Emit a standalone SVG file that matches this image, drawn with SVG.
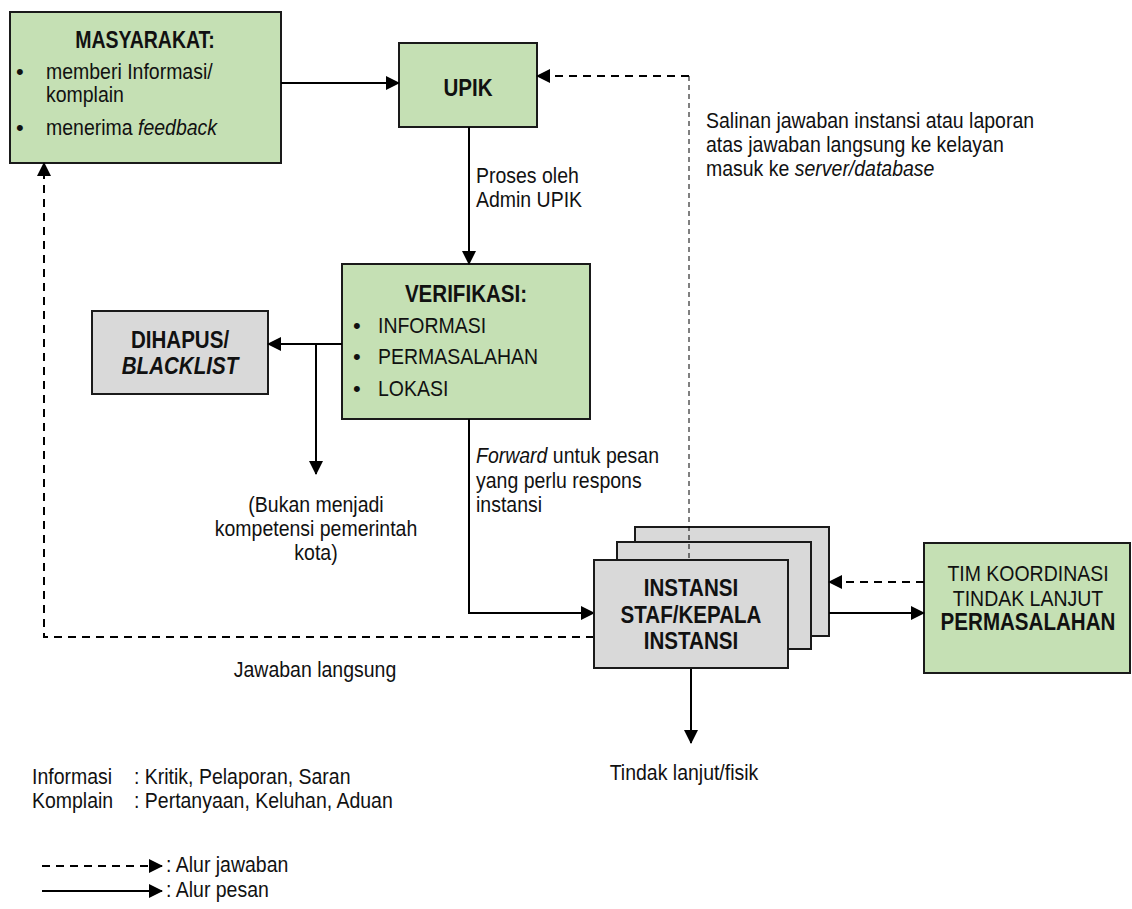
<svg xmlns="http://www.w3.org/2000/svg" width="1132" height="909" viewBox="0 0 1132 909">
<style>
.t{font-family:"Liberation Sans",Arial,sans-serif;font-size:22px;fill:#111}
.b{font-weight:bold;font-size:23.5px}
.i{font-style:italic}
.c{text-anchor:middle}
.g{fill:#c5e0b4;stroke:#1a1a1a;stroke-width:2}
.k{fill:#d9d9d9;stroke:#1a1a1a;stroke-width:2}
.s{fill:none;stroke:#000;stroke-width:2}
.d{fill:none;stroke:#000;stroke-width:2;stroke-dasharray:8 6}
.f{fill:none;stroke:#000;stroke-width:1;stroke-dasharray:5 4}
</style>
<defs>
<marker id="ah" markerUnits="userSpaceOnUse" markerWidth="14" markerHeight="14" refX="13" refY="7" orient="auto">
<path d="M0,0 L14,7 L0,14 z" fill="#000"/>
</marker>
</defs>
<rect width="1132" height="909" fill="#fff"/>

<g id="masyarakat">
<rect class="g" x="10" y="12" width="271" height="151"/>
<text class="t b c" transform="translate(145 48) scale(.83 1)">MASYARAKAT:</text>
<text class="t" x="16" y="79">•</text>
<text class="t" transform="translate(46 79) scale(.886 1)">memberi Informasi/</text>
<text class="t" transform="translate(46 102) scale(.886 1)">komplain</text>
<text class="t" x="16" y="135">•</text>
<text class="t" transform="translate(46 135) scale(.886 1)">menerima <tspan class="i">feedback</tspan></text>
</g>

<g id="upik">
<rect class="g" x="399" y="43" width="138" height="84"/>
<text class="t b c" transform="translate(468 96) scale(.875 1)">UPIK</text>
</g>

<g id="verifikasi">
<rect class="g" x="342" y="264" width="248" height="155"/>
<text class="t b c" transform="translate(466 302) scale(.875 1)">VERIFIKASI:</text>
<text class="t" x="353" y="333">•</text>
<text class="t" transform="translate(378 333) scale(.886 1)">INFORMASI</text>
<text class="t" x="353" y="364">•</text>
<text class="t" transform="translate(378 364) scale(.886 1)">PERMASALAHAN</text>
<text class="t" x="353" y="396">•</text>
<text class="t" transform="translate(378 396) scale(.886 1)">LOKASI</text>
</g>

<g id="dihapus">
<rect class="k" x="92" y="311" width="176" height="83"/>
<text class="t b c" transform="translate(180 348) scale(.875 1)">DIHAPUS/</text>
<text class="t b i c" transform="translate(180 374) scale(.875 1)">BLACKLIST</text>
</g>

<g id="instansi">
<rect class="k" x="635" y="527" width="194" height="109"/>
<rect class="k" x="617" y="542" width="194" height="107"/>
</g>

<g id="tim">
<rect class="g" x="924" y="543" width="206" height="130"/>
<text class="t c" transform="translate(1028 581) scale(.886 1)">TIM KOORDINASI</text>
<text class="t c" transform="translate(1028 606) scale(.886 1)">TINDAK LANJUT</text>
<text class="t b c" transform="translate(1028 630) scale(.875 1)">PERMASALAHAN</text>
</g>

<g id="connectors">
<path class="s" d="M281,83 H399" marker-end="url(#ah)"/>
<path class="s" d="M469,127 V264" marker-end="url(#ah)"/>
<path class="s" d="M342,344 H268" marker-end="url(#ah)"/>
<path class="s" d="M316,344 V474" marker-end="url(#ah)"/>
<path class="s" d="M469,419 V613 H594" marker-end="url(#ah)"/>
<path class="s" d="M829,613 H924" marker-end="url(#ah)"/>
<path class="d" d="M924,582 H829" marker-end="url(#ah)"/>
<path class="f" d="M689,558 V76"/>
<path class="d" d="M689,76 H537" marker-end="url(#ah)"/>
<path class="d" d="M594,637 H44 V163" marker-end="url(#ah)"/>
<path class="s" d="M691,668 V743" marker-end="url(#ah)"/>
</g>

<g id="instansi-front">
<rect class="k" x="594" y="560" width="194" height="108"/>
<text class="t b c" transform="translate(691 596) scale(.875 1)">INSTANSI</text>
<text class="t b c" transform="translate(691 623) scale(.875 1)">STAF/KEPALA</text>
<text class="t b c" transform="translate(691 649) scale(.875 1)">INSTANSI</text>
</g>

<g id="labels">
<text class="t" transform="translate(476 183) scale(.886 1)">Proses oleh</text>
<text class="t" transform="translate(476 207) scale(.886 1)">Admin UPIK</text>
<text class="t" transform="translate(706 128) scale(.886 1)">Salinan jawaban instansi atau laporan</text>
<text class="t" transform="translate(706 152) scale(.886 1)">atas jawaban langsung ke kelayan</text>
<text class="t" transform="translate(706 176) scale(.886 1)">masuk ke <tspan class="i">server/database</tspan></text>
<text class="t" transform="translate(476 463) scale(.886 1)"><tspan class="i">Forward</tspan> untuk pesan</text>
<text class="t" transform="translate(476 488) scale(.886 1)">yang perlu respons</text>
<text class="t" transform="translate(476 512) scale(.886 1)">instansi</text>
<text class="t c" transform="translate(316 512) scale(.886 1)">(Bukan menjadi</text>
<text class="t c" transform="translate(316 536) scale(.886 1)">kompetensi pemerintah</text>
<text class="t c" transform="translate(316 560) scale(.886 1)">kota)</text>
<text class="t c" transform="translate(315 677) scale(.886 1)">Jawaban langsung</text>
<text class="t c" transform="translate(684 780) scale(.886 1)">Tindak lanjut/fisik</text>
</g>

<g id="legend">
<text class="t" transform="translate(32 784) scale(.886 1)">Informasi</text>
<text class="t" transform="translate(134 784) scale(.886 1)">: Kritik, Pelaporan, Saran</text>
<text class="t" transform="translate(32 808) scale(.886 1)">Komplain</text>
<text class="t" transform="translate(134 808) scale(.886 1)">: Pertanyaan, Keluhan, Aduan</text>
<path class="d" d="M42,866 H162" marker-end="url(#ah)"/>
<text class="t" transform="translate(166 872) scale(.886 1)">: Alur jawaban</text>
<path class="s" d="M42,891 H162" marker-end="url(#ah)"/>
<text class="t" transform="translate(166 897) scale(.886 1)">: Alur pesan</text>
</g>
</svg>
